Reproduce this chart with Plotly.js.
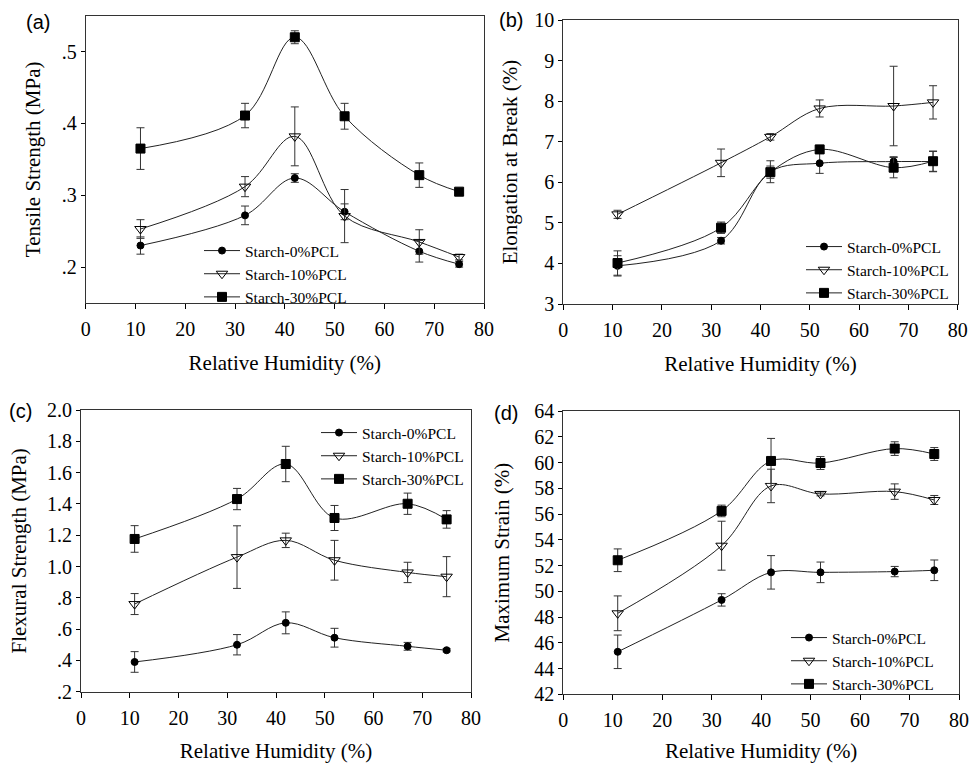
<!DOCTYPE html>
<html>
<head>
<meta charset="utf-8">
<script src="https://cdn.plot.ly/plotly-3.0.1.min.js"></script>
<style>html,body{margin:0;padding:0;background:#fff;}#chart{width:971px;height:763px;}</style>
</head>
<body>
<div id="chart"></div>
<script>
// ---- data ----
const rh = [11, 32, 42, 52, 67, 75];
const seriesNames = ["Starch-0%PCL", "Starch-10%PCL", "Starch-30%PCL"];

// (a) Tensile strength (MPa)
const ts0 = [0.230, 0.272, 0.324, 0.277, 0.222, 0.204];
const ts0Err = [0.012, 0.013, 0.006, 0.011, 0.015, 0.004];
const ts10 = [0.253, 0.312, 0.382, 0.271, 0.235, 0.214];
const ts10Err = [0.013, 0.014, 0.041, 0.037, 0.017, 0.004];
const ts30 = [0.365, 0.411, 0.520, 0.410, 0.328, 0.305];
const ts30Err = [0.029, 0.017, 0.009, 0.018, 0.017, 0.003];

// (b) Elongation at break (%)
const el0 = [3.94, 4.56, 6.26, 6.47, 6.51, 6.51];
const el0Err = [0.25, 0.08, 0.27, 0.25, 0.12, 0.25];
const el10 = [5.21, 6.48, 7.12, 7.82, 7.88, 7.97];
const el10Err = [0.10, 0.34, 0.08, 0.21, 0.98, 0.41];
const el30 = [4.01, 4.88, 6.25, 6.81, 6.36, 6.52];
const el30Err = [0.30, 0.14, 0.15, 0.10, 0.25, 0.25];

// (c) Flexural strength (MPa)
const fs0 = [0.390, 0.500, 0.640, 0.545, 0.490, 0.465];
const fs0Err = [0.066, 0.065, 0.070, 0.060, 0.025, 0.010];
const fs10 = [0.760, 1.060, 1.167, 1.040, 0.962, 0.935];
const fs10Err = [0.067, 0.200, 0.046, 0.127, 0.065, 0.128];
const fs30 = [1.176, 1.431, 1.655, 1.310, 1.401, 1.301];
const fs30Err = [0.085, 0.068, 0.113, 0.080, 0.068, 0.056];

// (d) Maximum strain (%)
const ms0 = [45.30, 49.33, 51.47, 51.47, 51.53, 51.63];
const ms0Err = [1.30, 0.48, 1.30, 0.80, 0.40, 0.80];
const ms10 = [48.29, 53.54, 58.18, 57.56, 57.74, 57.09];
const ms10Err = [1.35, 1.90, 1.30, 0.15, 0.60, 0.35];
const ms30 = [52.41, 56.24, 60.12, 59.96, 61.08, 60.66];
const ms30Err = [0.88, 0.45, 1.75, 0.50, 0.53, 0.50];

// tick labels
const xTicks = [0, 10, 20, 30, 40, 50, 60, 70, 80];
const aTickVals = [0.2, 0.3, 0.4, 0.5];
const aTickText = [".2", ".3", ".4", ".5"];
const bTickVals = [3, 4, 5, 6, 7, 8, 9, 10];
const cTickVals = [0.2, 0.4, 0.6, 0.8, 1.0, 1.2, 1.4, 1.6, 1.8, 2.0];
const cTickText = [".2", ".4", ".6", ".8", "1.0", "1.2", "1.4", "1.6", "1.8", "2.0"];
const dTickVals = [42, 44, 46, 48, 50, 52, 54, 56, 58, 60, 62, 64];

// ---- styling ----
const serif = "Liberation Serif, Times New Roman, serif";
const markerStyles = [
  {symbol: "circle", size: 7, color: "#000", line: {color: "#000", width: 1}},
  {symbol: "triangle-down-open", size: 10, color: "#000", line: {color: "#000", width: 1}},
  {symbol: "square", size: 9, color: "#000", line: {color: "#000", width: 1}}
];

function mk(x, y, err, idx, xa, ya, lg) {
  return {
    x: x, y: y, type: "scatter", mode: "lines+markers",
    name: seriesNames[idx],
    xaxis: xa, yaxis: ya, legend: lg,
    line: {color: "#222", width: 1, shape: "spline", smoothing: 1},
    marker: markerStyles[idx],
    error_y: {type: "data", array: err, visible: true, color: "#333", thickness: 1, width: 4}
  };
}

const data = [
  mk(rh, ts0, ts0Err, 0, "x", "y", "legend"),
  mk(rh, ts10, ts10Err, 1, "x", "y", "legend"),
  mk(rh, ts30, ts30Err, 2, "x", "y", "legend"),
  mk(rh, el0, el0Err, 0, "x2", "y2", "legend2"),
  mk(rh, el10, el10Err, 1, "x2", "y2", "legend2"),
  mk(rh, el30, el30Err, 2, "x2", "y2", "legend2"),
  mk(rh, fs0, fs0Err, 0, "x3", "y3", "legend3"),
  mk(rh, fs10, fs10Err, 1, "x3", "y3", "legend3"),
  mk(rh, fs30, fs30Err, 2, "x3", "y3", "legend3"),
  mk(rh, ms0, ms0Err, 0, "x4", "y4", "legend4"),
  mk(rh, ms10, ms10Err, 1, "x4", "y4", "legend4"),
  mk(rh, ms30, ms30Err, 2, "x4", "y4", "legend4")
];

const W = 971, H = 763;
function xd(l, r) { return [l / W, r / W]; }
function yd(t, b) { return [1 - b / H, 1 - t / H]; }

function xAxis(domain, anchor) {
  return {
    domain: domain, anchor: anchor, range: [0, 80],
    tickvals: xTicks, ticks: "outside", ticklen: 5, tickwidth: 1, tickcolor: "#000",
    ticklabelstandoff: 3,
    showline: true, linecolor: "#333", linewidth: 1, mirror: true,
    showgrid: false, zeroline: false,
    tickfont: {family: serif, size: 20, color: "#000"},
    title: {text: "Relative Humidity (%)", font: {family: serif, size: 21, color: "#000"}, standoff: 16}
  };
}
function yAxis(domain, anchor, range, vals, text, title, standoff) {
  const ax = {
    domain: domain, anchor: anchor, range: range,
    tickvals: vals, ticks: "outside", ticklen: 4, tickwidth: 1, tickcolor: "#000",
    showline: true, linecolor: "#333", linewidth: 1, mirror: true,
    showgrid: false, zeroline: false,
    tickfont: {family: serif, size: 20, color: "#000"},
    title: {text: title, font: {family: serif, size: 21, color: "#000"}, standoff: standoff}
  };
  if (text) ax.ticktext = text;
  return ax;
}
function legendAt(x, y) {
  return {
    x: x / W, y: 1 - y / H, xref: "paper", yref: "paper", xanchor: "left", yanchor: "top",
    bgcolor: "rgba(0,0,0,0)", borderwidth: 0,
    font: {family: serif, size: 15.5, color: "#000"},
    tracegroupgap: 0, itemwidth: 36
  };
}
function panelLabel(text, x, y) {
  return {text: text, x: x / W, y: 1 - y / H, xref: "paper", yref: "paper",
    xanchor: "left", yanchor: "middle", showarrow: false,
    font: {family: "Liberation Sans, Arial, sans-serif", size: 20, color: "#000"}};
}

const layout = {
  width: W, height: H,
  margin: {l: 0, r: 0, t: 0, b: 0},
  paper_bgcolor: "#fff", plot_bgcolor: "#fff",
  showlegend: true,
  xaxis: xAxis(xd(85.7, 484), "y"),
  yaxis: yAxis(yd(15.7, 303), "x", [0.15, 0.55], aTickVals, aTickText, "Tensile Strength (MPa)", 15),
  xaxis2: xAxis(xd(563.3, 957.7), "y2"),
  yaxis2: yAxis(yd(20, 304), "x2", [3, 10], bTickVals, null, "Elongation at Break (%)", 10),
  xaxis3: xAxis(xd(81, 471), "y3"),
  yaxis3: yAxis(yd(410, 691.7), "x3", [0.2, 2.0], cTickVals, cTickText, "Flexural Strength (MPa)", 14),
  xaxis4: xAxis(xd(563.3, 959), "y4"),
  yaxis4: yAxis(yd(411, 694.3), "x4", [42, 64], dTickVals, null, "Maximum Strain (%)", 18),
  legend: legendAt(199, 234),
  legend2: legendAt(801, 230),
  legend3: legendAt(316, 416),
  legend4: legendAt(786, 621),
  annotations: [
    panelLabel("(a)", 24, 22),
    panelLabel("(b)", 497, 20),
    panelLabel("(c)", 7, 411),
    panelLabel("(d)", 492, 413)
  ]
};

Plotly.newPlot("chart", data, layout, {staticPlot: true, displayModeBar: false});
</script>
</body>
</html>
